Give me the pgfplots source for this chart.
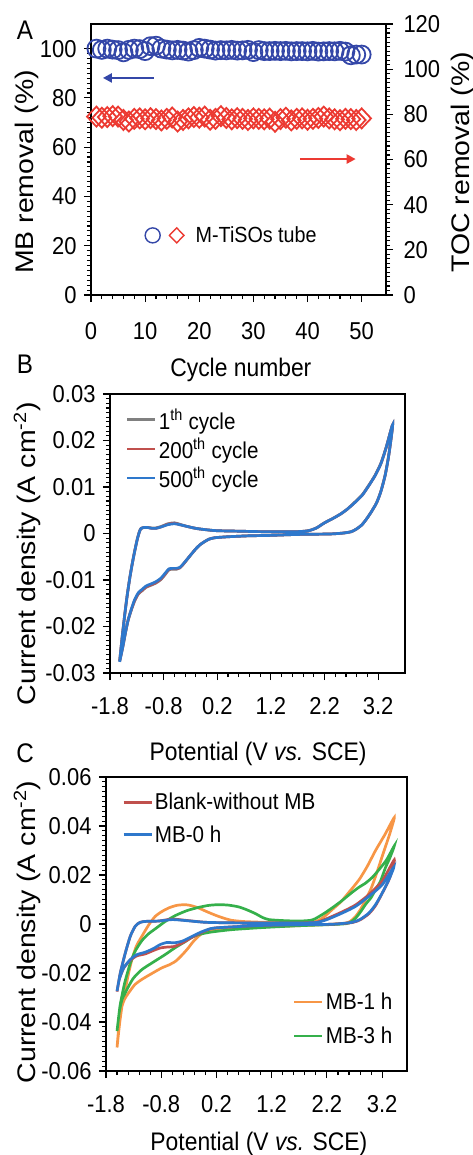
\documentclass[border=0pt]{standalone}
\usepackage{fontspec}
\setmainfont{Liberation Sans}[FakeStretch=0.9]
\newfontfamily\vfont{Liberation Sans}[FakeStretch=1.12]
\usepackage{pgfplots}
\pgfplotsset{compat=1.18}
\usepackage{pgfplotstable}
\usetikzlibrary{arrows.meta}

\definecolor{mbblue}{HTML}{3447A8}
\definecolor{tocred}{HTML}{EC3A32}
\definecolor{cvgray}{HTML}{808080}
\definecolor{cvred}{HTML}{C0504D}
\definecolor{cvblue}{HTML}{2E78CC}
\definecolor{cvorange}{HTML}{F79646}
\definecolor{cvgreen}{HTML}{35B04B}

% --- panel A: removal over 50 cycles
\pgfplotstableread{
cyc mb toc
1 100.0 79.0
2 99.5 78.5
3 100.0 78.8
4 99.6 79.2
5 99.4 79.0
6 98.5 77.5
7 99.5 76.8
8 100.0 78.0
9 99.8 78.2
10 99.0 77.8
11 101.0 78.3
12 101.2 77.9
13 100.0 77.3
14 99.6 78.0
15 99.3 78.6
16 99.5 76.8
17 99.2 77.5
18 98.8 78.2
19 99.4 78.8
20 100.3 78.5
21 100.0 79.0
22 99.6 77.6
23 99.2 78.0
24 99.4 79.2
25 99.3 78.4
26 99.5 77.8
27 99.2 78.3
28 99.3 78.0
29 99.5 77.5
30 98.6 78.2
31 99.4 78.0
32 99.0 77.8
33 99.0 78.1
34 99.1 76.7
35 99.0 77.9
36 99.1 78.5
37 98.9 77.3
38 99.0 78.0
39 99.0 78.2
40 98.9 77.6
41 99.1 78.0
42 98.8 78.4
43 98.9 79.0
44 99.0 78.2
45 98.9 77.8
46 99.1 77.4
47 98.8 78.0
48 97.3 77.9
49 97.6 77.5
50 97.6 78.2
}\cycdata

% --- panel B: CV after 500th cycle (1th and 200th almost the same)
\pgfplotstableread{
E j
-1.62 -0.0276
-1.57 -0.0220
-1.52 -0.0170
-1.48 -0.0134
-1.43 -0.0095
-1.38 -0.0062
-1.33 -0.0033
-1.29 -0.0012
-1.25 0.0004
-1.22 0.0011
-1.17 0.0013
-1.10 0.0013
-1.02 0.0011
-0.95 0.0011
-0.85 0.0014
-0.72 0.0019
-0.60 0.0021
-0.50 0.0019
-0.39 0.0016
-0.20 0.0011
0.00 0.0008
0.20 0.0006
0.60 0.0005
1.00 0.0004
1.40 0.0004
1.70 0.0004
1.90 0.0006
2.05 0.0012
2.20 0.0023
2.35 0.0032
2.50 0.0042
2.62 0.0052
2.75 0.0065
2.90 0.0082
3.02 0.0102
3.14 0.0124
3.25 0.0150
3.35 0.0185
3.47 0.0234
3.40 0.0170
3.33 0.0125
3.25 0.0090
3.17 0.0066
3.08 0.0048
3.00 0.0034
2.90 0.0019
2.80 0.0010
2.70 0.0004
2.55 0.0001
2.30 -0.0001
1.70 -0.0002
1.20 -0.0004
0.78 -0.0005
0.40 -0.0007
0.16 -0.0009
0.05 -0.0012
-0.03 -0.0017
-0.12 -0.0024
-0.20 -0.0033
-0.28 -0.0044
-0.36 -0.0055
-0.44 -0.0066
-0.50 -0.0073
-0.56 -0.0075
-0.63 -0.0075
-0.70 -0.0076
-0.77 -0.0085
-0.85 -0.0096
-0.95 -0.0104
-1.05 -0.0109
-1.13 -0.0113
-1.20 -0.0120
-1.27 -0.0127
-1.34 -0.0142
-1.40 -0.0162
-1.46 -0.0185
-1.51 -0.0212
-1.56 -0.0243
-1.62 -0.0276
}\cvBblue

\pgfplotstableread{
E j
-1.62 -0.0274
-1.57 -0.0219
-1.52 -0.0169
-1.48 -0.0133
-1.43 -0.0094
-1.38 -0.0061
-1.33 -0.0032
-1.29 -0.0011
-1.25 0.0005
-1.22 0.0011
-1.17 0.0013
-1.10 0.0013
-1.02 0.0012
-0.95 0.0012
-0.85 0.0015
-0.72 0.0021
-0.60 0.0023
-0.50 0.0020
-0.39 0.0016
-0.20 0.0011
0.00 0.0008
0.20 0.0006
0.60 0.0005
1.00 0.0004
1.40 0.0004
1.70 0.0004
1.90 0.0006
2.05 0.0012
2.20 0.0023
2.35 0.0032
2.50 0.0042
2.62 0.0052
2.75 0.0066
2.90 0.0083
3.02 0.0103
3.14 0.0125
3.25 0.0151
3.35 0.0186
3.47 0.0234
3.40 0.0171
3.33 0.0126
3.25 0.0091
3.17 0.0066
3.08 0.0048
3.00 0.0034
2.90 0.0019
2.80 0.0010
2.70 0.0004
2.55 0.0001
2.30 -0.0001
1.70 -0.0002
1.20 -0.0004
0.78 -0.0005
0.40 -0.0007
0.16 -0.0009
0.05 -0.0012
-0.03 -0.0017
-0.12 -0.0024
-0.20 -0.0033
-0.28 -0.0044
-0.36 -0.0056
-0.44 -0.0067
-0.50 -0.0074
-0.56 -0.0077
-0.63 -0.0077
-0.70 -0.0078
-0.77 -0.0088
-0.85 -0.0099
-0.95 -0.0107
-1.05 -0.0112
-1.13 -0.0116
-1.20 -0.0123
-1.27 -0.0130
-1.34 -0.0145
-1.40 -0.0164
-1.46 -0.0186
-1.51 -0.0212
-1.56 -0.0243
-1.62 -0.0274
}\cvBgray

\pgfplotstableread{
E j
-1.62 -0.0275
-1.57 -0.0220
-1.52 -0.0170
-1.48 -0.0134
-1.43 -0.0095
-1.38 -0.0062
-1.33 -0.0033
-1.29 -0.0012
-1.25 0.0004
-1.22 0.0011
-1.17 0.0013
-1.10 0.0013
-1.02 0.0011
-0.95 0.0011
-0.85 0.0014
-0.72 0.0020
-0.60 0.0022
-0.50 0.0019
-0.39 0.0016
-0.20 0.0011
0.00 0.0008
0.20 0.0006
0.60 0.0005
1.00 0.0004
1.40 0.0004
1.70 0.0004
1.90 0.0006
2.05 0.0012
2.20 0.0023
2.35 0.0032
2.50 0.0042
2.62 0.0052
2.75 0.0065
2.90 0.0082
3.02 0.0102
3.14 0.0124
3.25 0.0150
3.35 0.0185
3.47 0.0234
3.40 0.0170
3.33 0.0125
3.25 0.0090
3.17 0.0066
3.08 0.0048
3.00 0.0034
2.90 0.0019
2.80 0.0010
2.70 0.0004
2.55 0.0001
2.30 -0.0001
1.70 -0.0002
1.20 -0.0004
0.78 -0.0005
0.40 -0.0007
0.16 -0.0009
0.05 -0.0012
-0.03 -0.0017
-0.12 -0.0024
-0.20 -0.0033
-0.28 -0.0044
-0.36 -0.0055
-0.44 -0.0067
-0.50 -0.0074
-0.56 -0.0076
-0.63 -0.0076
-0.70 -0.0077
-0.77 -0.0087
-0.85 -0.0098
-0.95 -0.0106
-1.05 -0.0111
-1.13 -0.0115
-1.20 -0.0122
-1.27 -0.0129
-1.34 -0.0144
-1.40 -0.0163
-1.46 -0.0185
-1.51 -0.0212
-1.56 -0.0243
-1.62 -0.0275
}\cvBred

% --- panel C: CV with and without MB
\pgfplotstableread{
E j
-1.60 -0.0276
-1.54 -0.0199
-1.45 -0.0118
-1.36 -0.0050
-1.27 -0.0009
-1.18 0.0007
-1.06 0.0011
-0.85 0.0012
-0.60 0.0020
-0.36 0.0015
0.00 0.0007
0.40 0.0005
1.00 0.0004
1.60 0.0004
2.00 0.0007
2.20 0.0022
2.48 0.0050
2.72 0.0078
2.96 0.0120
3.20 0.0175
3.42 0.0262
3.34 0.0190
3.20 0.0125
3.08 0.0075
2.96 0.0042
2.81 0.0018
2.66 0.0006
2.29 -0.0001
1.60 -0.0003
1.00 -0.0006
0.18 -0.0016
0.00 -0.0028
-0.12 -0.0040
-0.27 -0.0058
-0.42 -0.0078
-0.57 -0.0092
-0.69 -0.0094
-0.82 -0.0098
-0.94 -0.0108
-1.09 -0.0122
-1.24 -0.0130
-1.36 -0.0148
-1.48 -0.0180
-1.56 -0.0226
-1.60 -0.0276
}\cvCblank

\pgfplotstableread{
E j
-1.60 -0.0274
-1.54 -0.0199
-1.45 -0.0118
-1.36 -0.0050
-1.27 -0.0009
-1.18 0.0007
-1.06 0.0011
-0.85 0.0012
-0.60 0.0018
-0.36 0.0014
0.00 0.0007
0.40 0.0005
1.00 0.0004
1.60 0.0004
2.00 0.0006
2.20 0.0018
2.48 0.0045
2.72 0.0072
2.96 0.0113
3.20 0.0160
3.41 0.0232
3.32 0.0180
3.20 0.0126
3.08 0.0079
2.96 0.0045
2.81 0.0020
2.66 0.0007
2.29 -0.0001
1.60 -0.0003
1.00 -0.0006
0.18 -0.0016
0.00 -0.0026
-0.12 -0.0037
-0.27 -0.0054
-0.42 -0.0070
-0.57 -0.0077
-0.69 -0.0075
-0.82 -0.0084
-0.94 -0.0100
-1.09 -0.0115
-1.24 -0.0125
-1.36 -0.0145
-1.48 -0.0179
-1.56 -0.0226
-1.60 -0.0274
}\cvCzero

\pgfplotstableread{
E j
-1.60 -0.0504
-1.55 -0.0400
-1.50 -0.0320
-1.45 -0.0267
-1.39 -0.0200
-1.33 -0.0145
-1.25 -0.0090
-1.15 -0.0050
-1.03 -0.0005
-0.91 0.0031
-0.78 0.0052
-0.66 0.0066
-0.52 0.0076
-0.36 0.0079
-0.24 0.0074
-0.12 0.0065
0.03 0.0050
0.18 0.0036
0.33 0.0024
0.48 0.0015
0.70 0.0010
1.09 0.0007
1.60 0.0007
1.99 0.0010
2.15 0.0030
2.29 0.0058
2.45 0.0090
2.60 0.0130
2.78 0.0180
2.93 0.0235
3.08 0.0300
3.25 0.0365
3.42 0.0435
3.34 0.0370
3.26 0.0316
3.17 0.0255
3.08 0.0194
3.00 0.0145
2.90 0.0099
2.81 0.0060
2.72 0.0031
2.63 0.0012
2.54 0.0004
2.20 -0.0002
1.69 -0.0007
1.00 -0.0011
0.48 -0.0016
0.18 -0.0022
0.00 -0.0030
-0.10 -0.0045
-0.18 -0.0062
-0.24 -0.0077
-0.30 -0.0095
-0.36 -0.0111
-0.45 -0.0133
-0.54 -0.0152
-0.66 -0.0167
-0.79 -0.0179
-0.97 -0.0202
-1.15 -0.0226
-1.28 -0.0248
-1.39 -0.0281
-1.46 -0.0305
-1.51 -0.0335
-1.56 -0.0400
-1.60 -0.0504
}\cvConeh

\pgfplotstableread{
E j
-1.60 -0.0437
-1.55 -0.0340
-1.50 -0.0280
-1.45 -0.0230
-1.36 -0.0160
-1.27 -0.0110
-1.15 -0.0068
-1.03 -0.0040
-0.91 -0.0020
-0.73 0.0010
-0.54 0.0035
-0.33 0.0055
-0.12 0.0068
0.06 0.0076
0.24 0.0079
0.42 0.0077
0.60 0.0070
0.75 0.0058
0.91 0.0042
1.03 0.0027
1.15 0.0018
1.40 0.0014
1.69 0.0012
1.90 0.0015
1.99 0.0022
2.14 0.0042
2.29 0.0065
2.47 0.0095
2.66 0.0130
2.78 0.0150
2.90 0.0167
3.02 0.0190
3.14 0.0221
3.28 0.0262
3.42 0.0319
3.34 0.0270
3.26 0.0230
3.17 0.0175
3.08 0.0140
3.00 0.0108
2.90 0.0080
2.81 0.0050
2.72 0.0024
2.63 0.0008
2.54 0.0001
2.20 -0.0003
1.69 -0.0007
1.00 -0.0015
0.48 -0.0023
0.10 -0.0033
-0.12 -0.0043
-0.25 -0.0055
-0.36 -0.0071
-0.55 -0.0097
-0.73 -0.0125
-0.94 -0.0155
-1.15 -0.0186
-1.30 -0.0220
-1.39 -0.0254
-1.46 -0.0285
-1.51 -0.0308
-1.56 -0.0360
-1.60 -0.0437
}\cvCthreeh

\pgfplotsset{
  panel/.style={
    scale only axis, anchor=north west,
    axis line style={line width=1.3bp},
    tick style={line width=1.1bp, black},
    major tick length=7bp, minor tick length=4bp,
    tick align=outside,
    xtick pos=bottom, ytick pos=left,
    /pgf/number format/assume math mode=true,
    tick label style={font=\fontsize{24.5}{28}\selectfont},
    xticklabel style={yshift=-14bp},
    yticklabel style={xshift=-4bp},
    xlabel style={font=\fontsize{25.5}{28}\selectfont},
    ylabel style={font=\vfont\fontsize{25.5}{28}\selectfont},
  },
  cvline/.style={line width=2.7bp, smooth, tension=0.4},
  cvlegend/.style={
    draw=none, fill=none, inner sep=0pt,
    font=\fontsize{23}{25}\selectfont,
    row sep=3bp,
    nodes={inner sep=2bp},
  },
  legend image code/.code={\draw[#1] (0bp,0bp) -- (28bp,0bp);},
}

\begin{document}
\begin{tikzpicture}

% ---------- A ----------
\begin{axis}[panel, at={(91bp,-24bp)}, width=295bp, height=271bp,
  xmin=0, xmax=54.5, ymin=0, ymax=110,
  xtick={0,10,...,50}, ytick={0,20,...,100},
  minor x tick num=4, minor y tick num=9,
  xticklabel style={yshift=-3bp},
  xlabel={Cycle number}, ylabel={MB removal (\%)},
  xlabel style={at={(axis description cs:0.508,-0.276)}, anchor=center},
  ylabel style={at={(axis description cs:-0.217,0.454)}, anchor=center},
  clip=false,
  legend style={at={(rel axis cs:0.183,0.22)}, anchor=west, draw=none, fill=none,
    font=\fontsize{22}{24}\selectfont, inner sep=0pt, nodes={inner sep=3bp}},
]
\addplot[only marks, mark=o, mbblue, mark size=9bp, mark options={line width=1.8bp}, forget plot]
  table[x=cyc, y=mb]{\cycdata};
\addlegendimage{legend image code/.code={
  \begin{scope}[mbblue, line width=1.4bp]\pgfsetplotmarksize{7.5bp}\pgfuseplotmark{o}\end{scope}
  \begin{scope}[tocred, line width=1.4bp, xshift=24bp, xscale=1.3]\pgfsetplotmarksize{7.5bp}\pgfuseplotmark{diamond}\end{scope}
  \path[draw=none] (0bp,0bp) -- (40bp,0bp);
}}
\addlegendentry{M-TiSOs tube}
\draw[mbblue, line width=2.2bp, -{Triangle[length=9bp,width=9bp]}] (axis cs:11.6,88.1) -- (axis cs:2.2,88.1);
\end{axis}

\begin{axis}[panel, at={(91bp,-24bp)}, width=295bp, height=271bp,
  xmin=0, xmax=54.5, ymin=0, ymax=120,
  axis x line=none, axis y line*=right, ytick pos=right,
  ytick={0,20,...,120}, minor y tick num=9,
  yticklabel style={xshift=11bp},
  ylabel={TOC removal (\%)},
  ylabel style={at={(axis description cs:1.261,0.49)}, anchor=center},
  clip=false,
]
\addplot[only marks, mark=diamond, tocred, mark size=10bp, mark options={line width=1.8bp, xscale=1.25}]
  table[x=cyc, y=toc]{\cycdata};
\draw[tocred, line width=2.2bp, -{Triangle[length=9bp,width=9bp]}] (axis cs:38.6,60.2) -- (axis cs:48.9,60.2);
\end{axis}

% ---------- B ----------
\begin{axis}[panel, at={(110bp,-394bp)}, width=295bp, height=279bp,
  xmin=-1.8, xmax=3.7, ymin=-0.03, ymax=0.03,
  xtick={-1.8,-0.8,0.2,1.2,2.2,3.2}, xticklabels={-1.8,-0.8,0.2,1.2,2.2,3.2},
  ytick={-0.03,-0.02,-0.01,0,0.01,0.02,0.03},
  yticklabels={-0.03,-0.02,-0.01,0,0.01,0.02,0.03},
  scaled y ticks=false,
  minor x tick num=4, minor y tick num=9,
  xlabel={Potential (V \textit{vs.} SCE)},
  ylabel={Current density (A cm\textsuperscript{-2})},
  xlabel style={at={(axis description cs:0.502,-0.29)}, anchor=center},
  ylabel style={at={(axis description cs:-0.281,0.427)}, anchor=center},
  legend style={cvlegend, at={(rel axis cs:0.054,0.955)}, anchor=north west},
  legend cell align=left,
]
\addplot[cvgray, cvline] table[x=E, y=j]{\cvBgray};
\addlegendentry{1\textsuperscript{th} cycle}
\addplot[cvred, cvline] table[x=E, y=j]{\cvBred};
\addlegendentry{200\textsuperscript{th} cycle}
\addplot[cvblue, cvline] table[x=E, y=j]{\cvBblue};
\addlegendentry{500\textsuperscript{th} cycle}
\end{axis}

% ---------- C ----------
\begin{axis}[panel, at={(106bp,-777bp)}, width=301bp, height=294bp,
  xmin=-1.8, xmax=3.65, ymin=-0.06, ymax=0.06,
  xtick={-1.8,-0.8,0.2,1.2,2.2,3.2}, xticklabels={-1.8,-0.8,0.2,1.2,2.2,3.2},
  ytick={-0.06,-0.04,-0.02,0,0.02,0.04,0.06},
  yticklabels={-0.06,-0.04,-0.02,0,0.02,0.04,0.06},
  scaled y ticks=false,
  minor x tick num=4, minor y tick num=9,
  xlabel={Potential (V \textit{vs.} SCE)},
  ylabel={Current density (A cm\textsuperscript{-2})},
  xlabel style={at={(axis description cs:0.508,-0.249)}, anchor=center},
  ylabel style={at={(axis description cs:-0.262,0.473)}, anchor=center},
  legend style={cvlegend, row sep=12bp, at={(rel axis cs:0.621,0.273)}, anchor=north west},
  legend cell align=left,
]
\addplot[cvorange, cvline] table[x=E, y=j]{\cvConeh};
\addlegendentry{MB-1 h}
\addplot[cvgreen, cvline] table[x=E, y=j]{\cvCthreeh};
\addlegendentry{MB-3 h}
\end{axis}

\begin{axis}[panel, at={(106bp,-777bp)}, width=301bp, height=294bp,
  xmin=-1.8, xmax=3.65, ymin=-0.06, ymax=0.06,
  hide axis,
  legend style={cvlegend, row sep=10bp, at={(rel axis cs:0.053,0.952)}, anchor=north west},
  legend cell align=left,
]
\addplot[cvred, cvline] table[x=E, y=j]{\cvCblank};
\addlegendentry{Blank-without MB}
\addplot[cvblue, cvline] table[x=E, y=j]{\cvCzero};
\addlegendentry{MB-0 h}
\end{axis}

% panel letters
\node[font=\fontsize{27}{30}\selectfont] at (25bp,-30bp) {A};
\node[font=\fontsize{27}{30}\selectfont] at (25bp,-364bp) {B};
\node[font=\fontsize{27}{30}\selectfont] at (25bp,-753bp) {C};

\pgfresetboundingbox
\useasboundingbox (0bp,0bp) rectangle (473bp,-1155bp);
\end{tikzpicture}
\end{document}
